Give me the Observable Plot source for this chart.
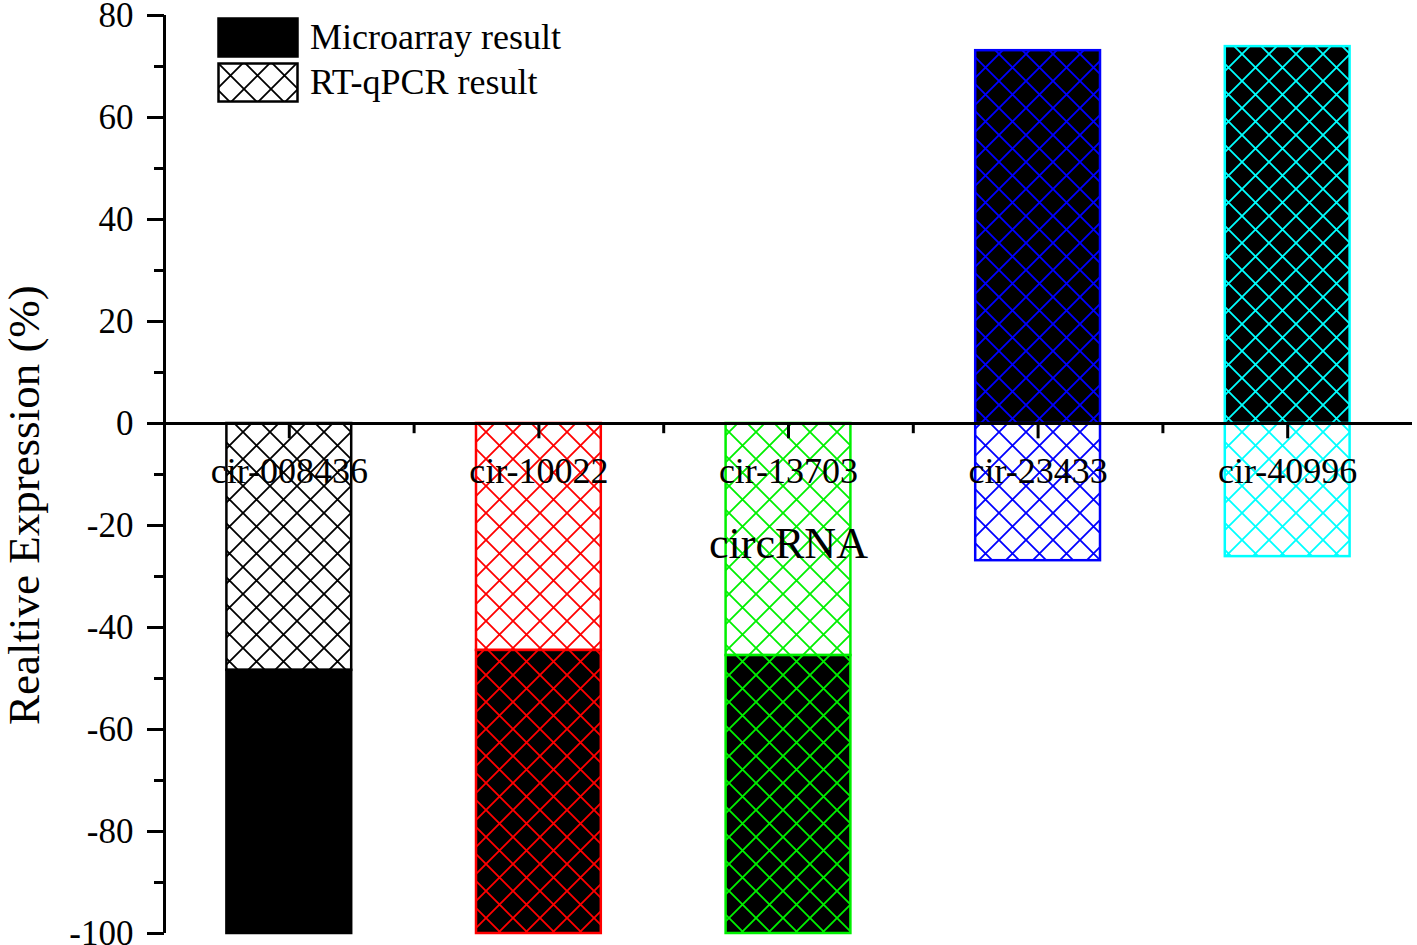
<!DOCTYPE html>
<html><head><meta charset="utf-8">
<script src="https://cdn.jsdelivr.net/npm/d3@7"></script>
<script src="https://cdn.jsdelivr.net/npm/@observablehq/plot@0.6"></script>
<style>
html,body{margin:0;padding:0;background:#fff;}
#wrap{position:relative;width:1417px;height:945px;font-family:"Liberation Serif","Times New Roman",serif;}
#legend{position:absolute;left:217px;top:17px;}
.item{display:flex;align-items:center;height:40px;margin-bottom:5px;font-size:36px;color:#000;}
.item svg{margin-right:11px;display:block;}
</style></head><body><div id="wrap"><div id="chart"></div><div id="legend"></div></div>
<script>
const categories = ["cir-008436","cir-10022","cir-13703","cir-23433","cir-40996"];
const microarray = [-51.6,-55.5,-54.5,73.1,73.9];
const rtqpcr = [-48.4,-44.5,-45.5,-26.9,-26.1];
const barColors = ["#000000","#ff0000","#00f000","#0000ff","#00ffff"];
const seriesNames = ["Microarray result","RT-qPCR result"];
const yTicks = [-100,-80,-60,-40,-20,0,20,40,60,80];
const yMinorTicks = [-90,-70,-50,-30,-10,10,30,50,70];

// stacked rows (by sign), RT-qPCR first then Microarray
const rows = [];
categories.forEach((c,i)=>{
  let pos=0, neg=0;
  [[seriesNames[1], rtqpcr[i], "w"],[seriesNames[0], microarray[i], "b"]].forEach(([s,v,bg])=>{
    let y1,y2;
    if (v>=0){y1=pos;y2=pos+v;pos=y2;} else {y1=neg;y2=neg+v;neg=y2;}
    rows.push({i, cat:c, series:s, y1, y2, fill:`url(#hatch-${bg}-${i})`, stroke:barColors[i]});
  });
});

const chart = Plot.plot({
  width:1417, height:945,
  marginLeft:164, marginRight:5, marginTop:15, marginBottom:12,
  x:{type:"linear", domain:[-0.5,4.5], axis:null},
  y:{domain:[-100,80]},
  color:{type:"identity"},
  style:{fontFamily:'"Liberation Serif","Times New Roman",serif', fontSize:"35px", color:"black", background:"white", overflow:"visible"},
  marks:[
    Plot.rectY(rows,{x1:d=>d.i-0.25, x2:d=>d.i+0.25, y1:"y1", y2:"y2", fill:"fill", stroke:"stroke", strokeWidth:2.5}),
    Plot.ruleY([0],{strokeWidth:3}),
    Plot.ruleX([-0.5],{strokeWidth:3}),
    Plot.ruleX(categories.map((c,i)=>i),{y1:0, y2:-3, strokeWidth:3}),
    Plot.ruleX(d3.range(0.5,4.5,1),{y1:0, y2:-2, strokeWidth:3}),
    Plot.axisY({ticks:yTicks, tickSize:17, tickPadding:14, tickFormat:d=>String(d), strokeWidth:3, fontSize:35, label:null}),
    Plot.axisY({ticks:yMinorTicks, tickSize:10, tickFormat:()=>"", strokeWidth:3, label:null}),
    Plot.text(categories,{x:(d,i)=>i, y:0, dy:48, fontSize:36, fill:"black"}),
    Plot.text(["circRNA"],{x:2, y:0, dy:120, fontSize:44, fill:"black"}),
    Plot.text(["Realtive Expression (%)"],{x:-0.5, y:-16, dx:-140, rotate:-90, fontSize:45, fill:"black"})
  ]
});

// patterns
function addPatterns(svgSel, prefix, size){
  const defs = svgSel.insert("defs",":first-child");
  barColors.forEach((col,i)=>{
    [["w","white"],["b","black"]].forEach(([k,bg])=>{
      const p = defs.append("pattern").attr("id",`${prefix}-${k}-${i}`)
        .attr("patternUnits","userSpaceOnUse").attr("width",size).attr("height",size);
      p.append("rect").attr("width",size).attr("height",size).attr("fill",bg);
      p.append("path").attr("d",`M0,0L${size},${size}M${size},0L0,${size}`)
        .attr("stroke",col).attr("stroke-width",1.8).attr("fill","none");
    });
  });
}
addPatterns(d3.select(chart),"hatch",27);
document.getElementById("chart").appendChild(chart);

// legend
const legend = d3.select("#legend");
[["b","Microarray result"],["w","RT-qPCR result"]].forEach(([k,label])=>{
  const item = legend.append("div").attr("class","item");
  const s = item.append("svg").attr("width",82).attr("height",41);
  addPatterns(s,"leg-"+k,27);
  s.append("rect").attr("x",1.5).attr("y",1.5).attr("width",79).attr("height",38)
    .attr("fill",k==="b"?"black":`url(#leg-${k}-w-0)`).attr("stroke","black").attr("stroke-width",2.5);
  item.append("span").text(label);
});
</script></body></html>
